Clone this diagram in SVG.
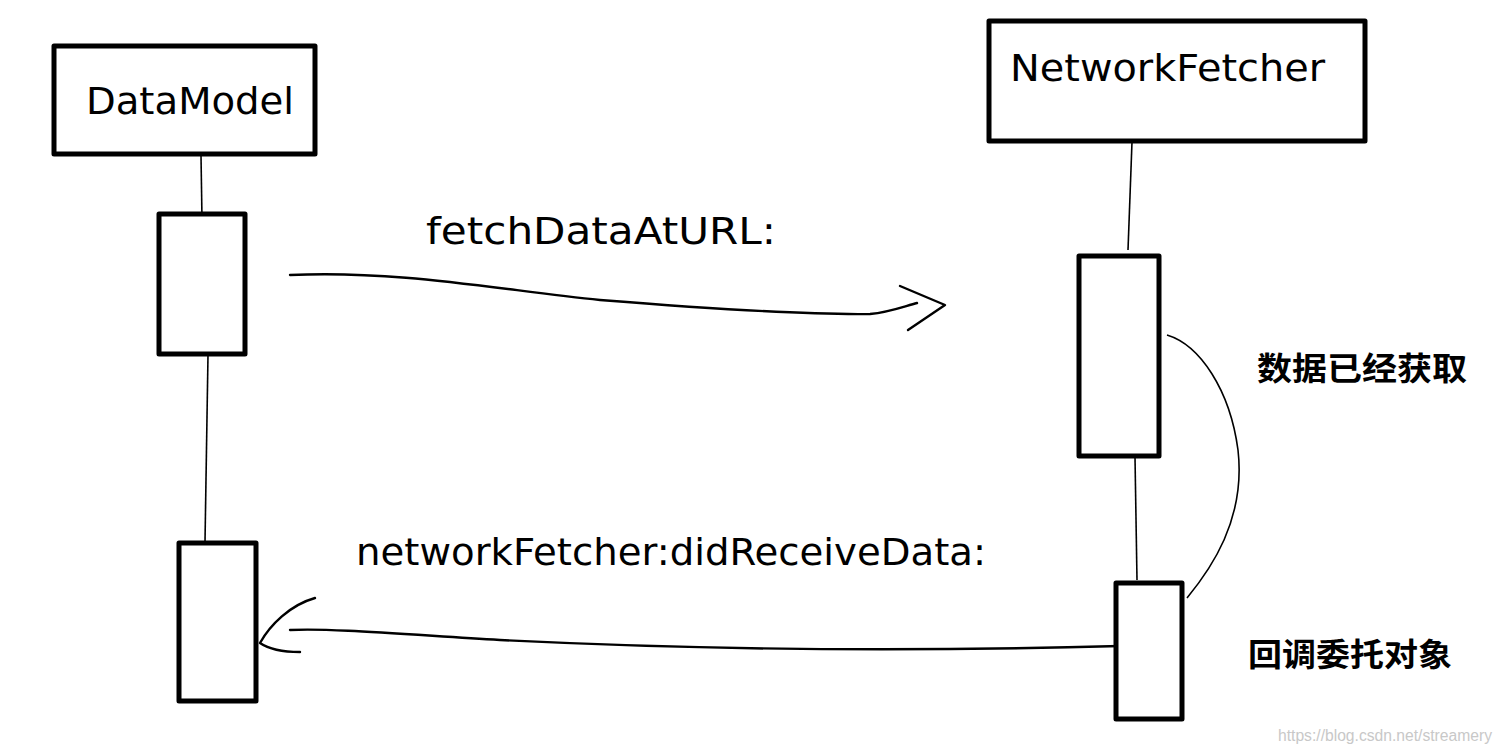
<svg xmlns="http://www.w3.org/2000/svg" width="1501" height="754" viewBox="0 0 1501 754">
<style>
.box{fill:#fff;stroke:#000;stroke-width:5;stroke-linejoin:round}
.life{fill:none;stroke:#000;stroke-width:1.6}
.msg{fill:none;stroke:#000;stroke-width:2.4;stroke-linecap:round;stroke-linejoin:round}
.hand{font-family:"Comic Sans MS","DejaVu Sans",sans-serif;font-size:38px;fill:#000}
.cn{font-family:"Noto Sans CJK SC",sans-serif;font-weight:bold;font-size:32px;fill:#000}
.wm{font-family:"Liberation Sans",Arial,sans-serif;font-size:16px;fill:#c8c8c8}
</style>
<rect width="1501" height="754" fill="#fff"/>
<g id="connectors">
<path class="life" d="M201,155 L202,220"/>
<path class="life" d="M208,355 L205,542"/>
<path class="life" d="M1132,142 L1128,250"/>
<path class="life" d="M1135,457 L1137,580"/>
<path class="msg" d="M290,275 C400,270 500,290 600,300 C700,308 800,315 870,314 C890,312 905,306 917,303"/>
<path class="msg" d="M900,286 L945,305 L908,330"/>
<path class="msg" d="M1120,646 C900,652 700,650 500,640 C400,634 330,628 290,630"/>
<path class="msg" d="M315,598 C290,605 270,625 260,643 C270,650 285,652 300,652"/>
<path class="life" d="M1167,335 C1200,345 1230,390 1238,450 C1246,520 1210,570 1187,598"/>
</g>
<g id="DataModel">
<rect class="box" x="54" y="46" width="261" height="108"/>
<text class="hand" x="86" y="114" textLength="208" lengthAdjust="spacingAndGlyphs">DataModel</text>
</g>
<g id="NetworkFetcher">
<rect class="box" x="989" y="21" width="376" height="120"/>
<text class="hand" x="1010" y="81" textLength="315" lengthAdjust="spacingAndGlyphs">NetworkFetcher</text>
</g>
<g id="dm-act1"><rect class="box" x="159" y="214" width="86" height="140"/></g>
<g id="dm-act2"><rect class="box" x="179" y="543" width="77" height="158"/></g>
<g id="nf-act1"><rect class="box" x="1079" y="256" width="80" height="200"/></g>
<g id="nf-act2"><rect class="box" x="1116" y="583" width="66" height="136"/></g>
<g id="labels">
<text class="hand" x="426" y="244" textLength="350" lengthAdjust="spacingAndGlyphs">fetchDataAtURL:</text>
<text class="hand" x="356" y="565" textLength="630" lengthAdjust="spacingAndGlyphs">networkFetcher:didReceiveData:</text>
<text class="cn" x="1257" y="380" textLength="210" lengthAdjust="spacingAndGlyphs">数据已经获取</text>
<text class="cn" x="1248" y="666" textLength="204" lengthAdjust="spacingAndGlyphs">回调委托对象</text>
<text class="wm" x="1278" y="741" textLength="214" lengthAdjust="spacingAndGlyphs">https://blog.csdn.net/streamery</text>
</g>
</svg>
